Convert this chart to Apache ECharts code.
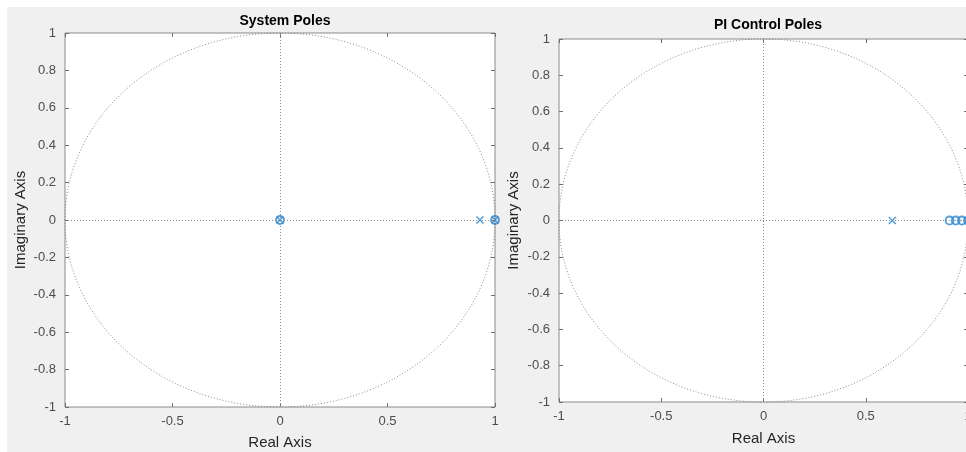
<!DOCTYPE html>
<html>
<head>
<meta charset="utf-8">
<script src="https://cdn.jsdelivr.net/npm/echarts@6/dist/echarts.min.js"></script>
<style>
  html, body { margin: 0; padding: 0; background: #fff; }
  #chart { width: 966px; height: 452px; }
</style>
</head>
<body>
<div id="chart"></div>
<script>
// pole / zero locations: [real, imag]
const sysPoles = [[0, 0], [0.93, 0], [1, 0]];
const sysZeros = [[0, 0], [1, 0]];
const piPoles = [[0.63, 0]];
const piZeros = [[0.91, 0], [0.94, 0], [0.97, 0], [1, 0]];
// unit circle: [centre re, centre im, radius]
const unitCircle = [[0, 0, 1]];
const titles = ['System Poles', 'PI Control Poles'];

const blue = '#2a84d0';
const grey = '#8c8c8c';
const font = 'Liberation Sans, Arial, Helvetica, sans-serif';
const crossPath = 'path://M0,0L10,10M10,0L0,10';

const grids = [
    {left: 65, right: 471, top: 33, bottom: 45},
    {left: 559, right: -2, top: 39, bottom: 50}
];

const tick = {inside: true, length: 4, lineStyle: {color: '#707070'}};

function mainX(i, gap) {
    return {
        gridIndex: i, type: 'value', min: -1, max: 1, interval: 0.5, position: 'bottom',
        name: 'Real Axis', nameLocation: 'middle', nameGap: gap,
        nameTextStyle: {color: '#262626', fontSize: 15, fontFamily: font},
        axisLine: {show: false, onZero: false},
        axisTick: tick,
        axisLabel: {color: '#4d4d4d', fontSize: 13, fontFamily: font, margin: 8},
        splitLine: {show: false}
    };
}
function mainY(i, gap) {
    return {
        gridIndex: i, type: 'value', min: -1, max: 1, interval: 0.2, position: 'left',
        name: 'Imaginary Axis', nameLocation: 'middle', nameGap: gap,
        nameTextStyle: {color: '#262626', fontSize: 15, fontFamily: font},
        axisLine: {show: false, onZero: false},
        axisTick: tick,
        axisLabel: {color: '#4d4d4d', fontSize: 13, fontFamily: font, margin: 9,
            formatter: v => String(Math.round(v * 10) / 10)},
        splitLine: {show: false}
    };
}
function mirror(i, pos, interval) {
    return {
        gridIndex: i, type: 'value', min: -1, max: 1, interval: interval, position: pos,
        axisLine: {show: false, onZero: false}, axisLabel: {show: false}, splitLine: {show: false},
        axisTick: tick
    };
}

function circleSeries(i) {
    return {
        type: 'custom', xAxisIndex: i * 2, yAxisIndex: i * 2, data: unitCircle,
        silent: true, clip: false, z: 1,
        renderItem: function (params, api) {
            const c = api.coord([api.value(0), api.value(1)]);
            const s = api.size([api.value(2), api.value(2)]);
            return {
                type: 'ellipse',
                shape: {cx: c[0], cy: c[1], rx: s[0], ry: s[1]},
                style: {fill: 'none', stroke: grey, lineWidth: 1, lineDash: [1, 2]}
            };
        },
        markLine: {
            silent: true, symbol: ['none', 'none'], label: {show: false},
            lineStyle: {color: grey, type: [1, 2], width: 1},
            data: [{xAxis: 0}, {yAxis: 0}]
        }
    };
}
function markSeries(i, data, isPole) {
    return {
        type: 'scatter', xAxisIndex: i * 2, yAxisIndex: i * 2, data: data,
        clip: false, z: 3,
        symbol: isPole ? crossPath : 'circle',
        symbolSize: isPole ? 7 : 8,
        itemStyle: {color: 'rgba(0,0,0,0)', borderColor: blue, borderWidth: isPole ? 1.5 : 1.8}
    };
}

const chart = echarts.init(document.getElementById('chart'));
chart.setOption({
    backgroundColor: '#fff',
    animation: false,
    graphic: [{
        type: 'rect', z: -10, silent: true,
        shape: {x: 7, y: 7, width: 966, height: 452},
        style: {fill: '#f0f0f0'}
    }],
    title: [
        {text: titles[0], left: 280, top: 9, textAlign: 'center',
            textStyle: {fontSize: 14, fontWeight: 'bold', color: '#000', fontFamily: font}},
        {text: titles[1], left: 763, top: 13, textAlign: 'center',
            textStyle: {fontSize: 14, fontWeight: 'bold', color: '#000', fontFamily: font}}
    ],
    grid: grids.map(g => Object.assign({show: true, backgroundColor: '#fff',
        borderColor: '#8a8a8a', borderWidth: 1, outerBoundsMode: 'none'}, g)),
    xAxis: [mainX(0, 28), mirror(0, 'top', 0.5), mainX(1, 29), mirror(1, 'top', 0.5)],
    yAxis: [mainY(0, 37), mirror(0, 'right', 0.2), mainY(1, 38), mirror(1, 'right', 0.2)],
    series: [
        circleSeries(0),
        markSeries(0, sysPoles, true),
        markSeries(0, sysZeros, false),
        circleSeries(1),
        markSeries(1, piPoles, true),
        markSeries(1, piZeros, false)
    ]
});
</script>
</body>
</html>
